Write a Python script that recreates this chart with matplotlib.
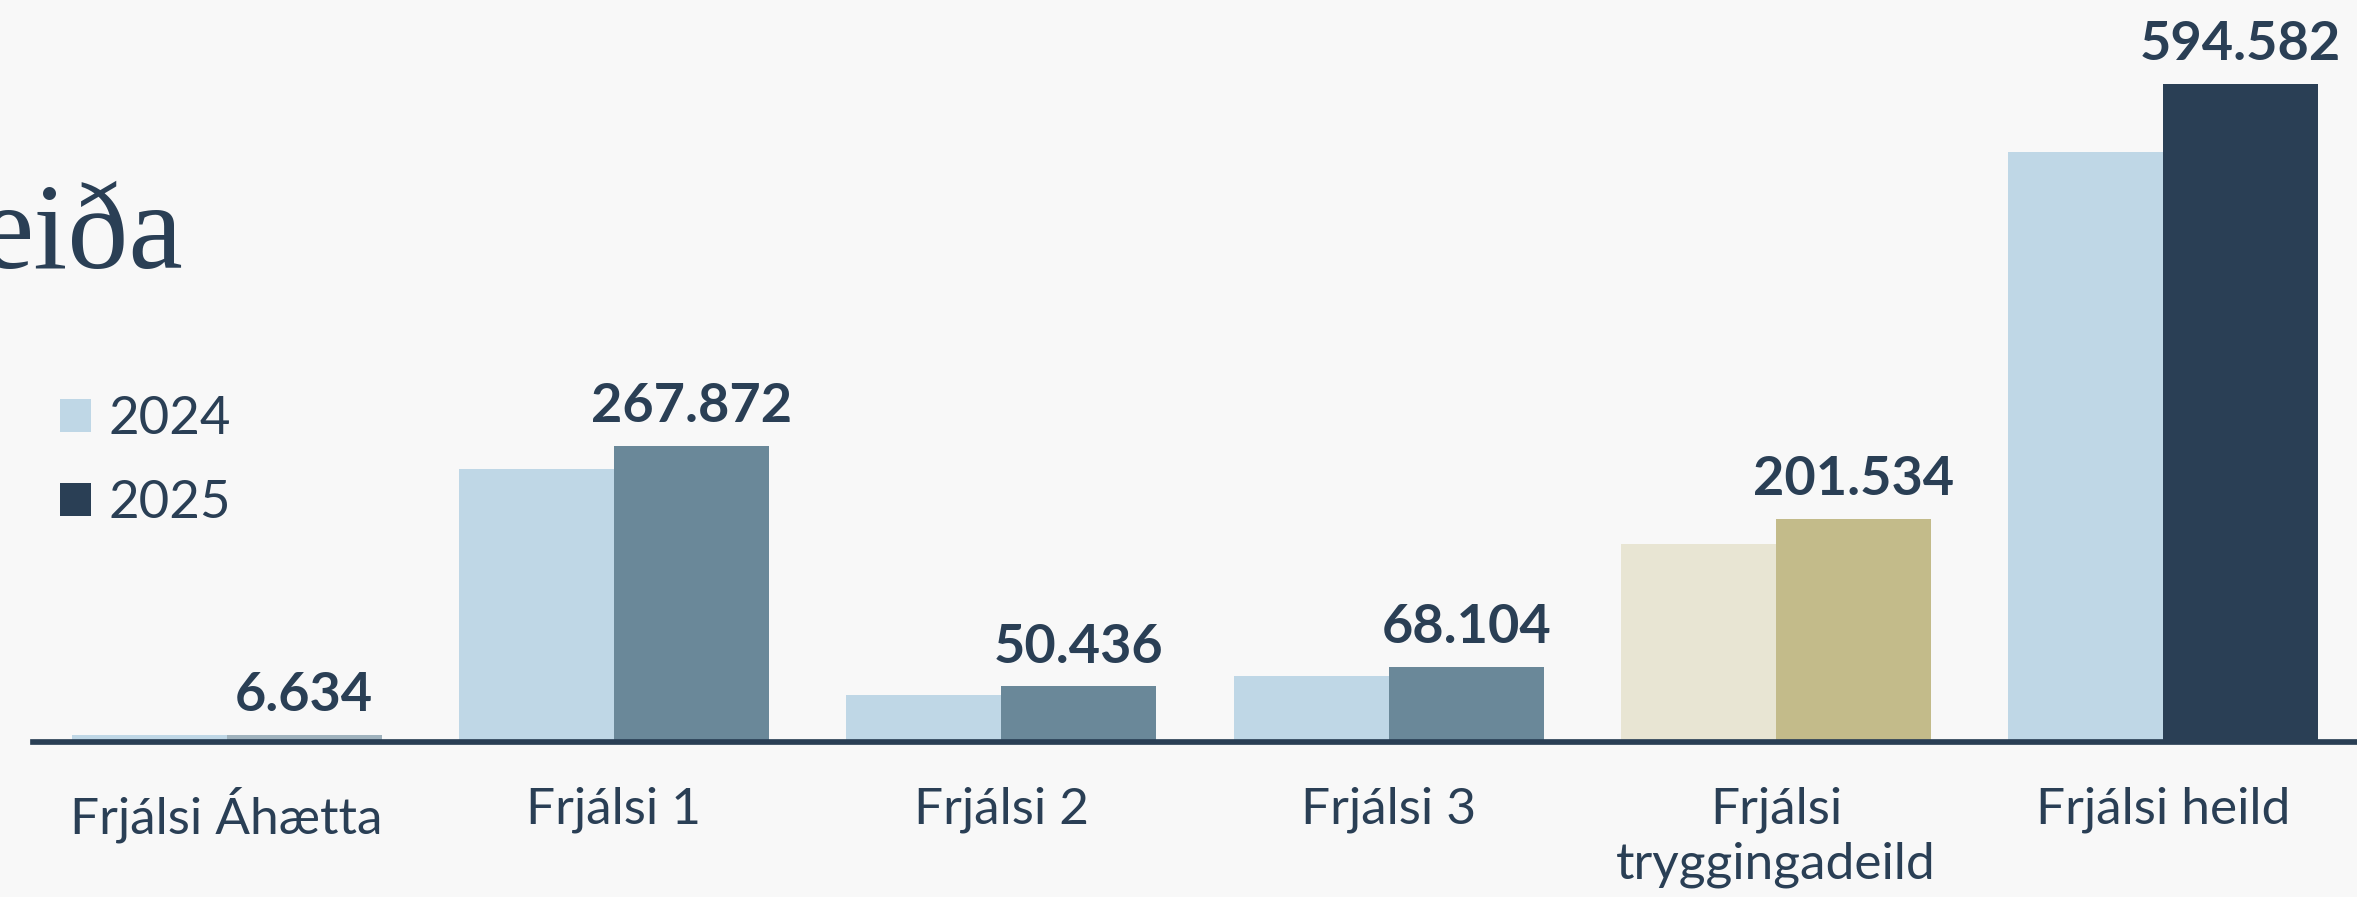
import matplotlib
matplotlib.use("Agg")
import matplotlib.pyplot as plt
import numpy as np
from matplotlib.patches import Patch

# ---- data ----
categories = ["Frjálsi Áhætta", "Frjálsi 1", "Frjálsi 2", "Frjálsi 3",
              "Frjálsi\ntryggingadeild", "Frjálsi heild"]
values_2024 = [5900, 246400, 42500, 59600, 178900, 533100]
values_2025 = [6634, 267872, 50436, 68104, 201534, 594582]
series_names = ["2024", "2025"]
title_text = "eiða"

# ---- style ----
BG = "#F8F8F8"
DARK = "#2A3F55"
colors_2024 = ["#BFD7E6", "#BFD7E6", "#BFD7E6", "#BFD7E6", "#E8E5D3", "#BFD7E6"]
colors_2025 = ["#9FB2BD", "#6A8899", "#6A8899", "#6A8899", "#C3BB8A", "#2A3F55"]
SANS = ["Lato", "DejaVu Sans"]

W, H, DPI = 2357, 897, 100
fig = plt.figure(figsize=(W / DPI, H / DPI), dpi=DPI, facecolor=BG)

ax_left_px, ax_bottom_px, ax_top_px = 33, 742, 40
ax = fig.add_axes([ax_left_px / W, (H - ax_bottom_px) / H,
                   (W - ax_left_px) / W, (ax_bottom_px - ax_top_px) / H])
ax.set_facecolor(BG)

x = np.arange(len(categories))
bw = 0.4
ax.bar(x - bw / 2, values_2024, width=bw, color=colors_2024, linewidth=0, zorder=1)
ax.bar(x + bw / 2, values_2025, width=bw, color=colors_2025, linewidth=0, zorder=1)

ax.set_xlim(-0.5, len(categories) - 0.5)
ax.set_ylim(0, 634300)

for s in ["top", "right", "left"]:
    ax.spines[s].set_visible(False)
ax.spines["bottom"].set_color(DARK)
ax.spines["bottom"].set_linewidth(4.1)
ax.spines["bottom"].set_zorder(3)
ax.set_yticks([])
ax.set_xticks(x)
ax.set_xticklabels(categories, fontsize=37, color=DARK, family=SANS,
                   fontweight="normal", linespacing=1.24)
ax.tick_params(axis="x", length=0, pad=32)

for xi, v in zip(x, values_2025):
    label = f"{v:,}".replace(",", ".")
    ax.annotate(label, (xi + bw / 2, v), xytext=(0, 17), textcoords="offset points",
                ha="center", va="baseline", fontsize=39, fontweight="bold",
                color=DARK, family=SANS)

# legend
handles = [Patch(facecolor="#BFD7E6", edgecolor="none"),
           Patch(facecolor=DARK, edgecolor="none")]
leg = fig.legend(handles, series_names, loc="upper left",
                 bbox_to_anchor=(60 / W, 1 - 396 / H), frameon=False,
                 prop={"family": SANS, "size": 38, "weight": "normal"},
                 handlelength=0.59, handleheight=0.59, handletextpad=0.32,
                 labelspacing=0.70, borderpad=0, borderaxespad=0)
for t in leg.get_texts():
    t.set_color(DARK)

# title fragment (cut at left edge, as in the original)
fig.text(183 / W, 1 - 268 / H, title_text, ha="right", va="baseline",
         fontsize=88, color=DARK, family=["Liberation Serif", "DejaVu Serif"])

fig.savefig("out.png", dpi=DPI, facecolor=BG)
